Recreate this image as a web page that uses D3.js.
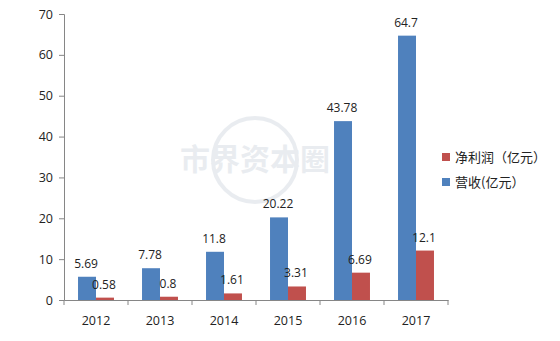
<!DOCTYPE html>
<html>
<head>
<meta charset="utf-8">
<script src="https://cdn.jsdelivr.net/npm/d3@7"></script>
<style>
  body { margin: 0; background: #fff; }
  svg text { font-family: "Open Sans", "DejaVu Sans", sans-serif; }
</style>
</head>
<body>
<div id="chart"></div>
<script>
const years = ["2012", "2013", "2014", "2015", "2016", "2017"];
const revenue = [5.69, 7.78, 11.8, 20.22, 43.78, 64.7];
const profit = [0.58, 0.8, 1.61, 3.31, 6.69, 12.1];
const yTicks = [0, 10, 20, 30, 40, 50, 60, 70];
const seriesNames = ["营收(亿元）", "净利润（亿元）"];

const width = 560, height = 341;
const margin = { left: 64, right: 112, top: 14, bottom: 41 };
const blue = "#4f81bd", red = "#c0504d", axisColor = "#868686";

const svg = d3.select("#chart").append("svg")
    .attr("width", width)
    .attr("height", height);

// watermark
const wm = svg.append("g").attr("opacity", 0.18);
wm.append("circle").attr("cx", 255).attr("cy", 160).attr("r", 42)
    .attr("fill", "none").attr("stroke", "#8a9bb0").attr("stroke-width", 4);
wm.append("text").attr("x", 255).attr("y", 170)
    .attr("text-anchor", "middle").attr("font-size", 30).attr("font-weight", "bold")
    .attr("fill", "#8a9bb0").style("font-family", "Noto Sans CJK SC")
    .text("市界资本圈");

const x = d3.scaleBand()
    .domain(years)
    .range([margin.left, width - margin.right]);

const inner = d3.scaleBand()
    .domain([0, 1])
    .range([0, x.bandwidth()])
    .paddingInner(0)
    .paddingOuter(0.78);

const y = d3.scaleLinear()
    .domain([0, 70])
    .range([height - margin.bottom, margin.top]);

// y axis
const yAxis = svg.append("g")
    .attr("transform", `translate(${margin.left},0)`)
    .call(d3.axisLeft(y).tickValues(yTicks).tickSize(5).tickPadding(6));
yAxis.select(".domain").attr("stroke", axisColor);
yAxis.selectAll(".tick line").attr("stroke", axisColor);
yAxis.selectAll(".tick text").attr("font-size", 12.5).attr("fill", "#222");

// bars
const series = [revenue, profit];
const colors = [blue, red];
series.forEach((vals, s) => {
    svg.append("g").selectAll("rect")
        .data(vals)
        .enter()
        .append("rect")
        .attr("x", (d, i) => x(years[i]) + inner(s))
        .attr("y", d => y(d))
        .attr("width", inner.bandwidth())
        .attr("height", d => y(0) - y(d))
        .attr("fill", colors[s]);

    svg.append("g").selectAll("text")
        .data(vals)
        .enter()
        .append("text")
        .attr("x", (d, i) => x(years[i]) + inner(s) + inner.bandwidth() / 2 - 1)
        .attr("y", d => y(d) - 9)
        .attr("text-anchor", "middle")
        .attr("font-size", 12)
        .attr("fill", "#222")
        .text(d => d);
});

// x axis
const xAxis = svg.append("g")
    .attr("transform", `translate(0,${y(0)})`)
    .call(d3.axisBottom(x).tickSize(0).tickPadding(16));
xAxis.select(".domain").attr("stroke", axisColor);
xAxis.selectAll(".tick text").attr("font-size", 12.5).attr("fill", "#222");
svg.append("g").selectAll("line")
    .data(years.concat(["end"]))
    .enter()
    .append("line")
    .attr("x1", (d, i) => margin.left + i * x.step())
    .attr("x2", (d, i) => margin.left + i * x.step())
    .attr("y1", y(0))
    .attr("y2", y(0) + 5)
    .attr("stroke", axisColor);

// legend
const legend = svg.append("g").attr("transform", "translate(442,157)");
[1, 0].forEach((s, k) => {
    const g = legend.append("g").attr("transform", `translate(0,${k * 25})`);
    g.append("rect").attr("x", 0).attr("y", -4).attr("width", 8).attr("height", 8)
        .attr("fill", colors[s]);
    g.append("text").attr("x", 13).attr("y", 0).attr("dy", "0.35em")
        .attr("font-size", 13).attr("fill", "#222")
        .style("font-family", "Noto Sans CJK SC")
        .text(seriesNames[s]);
});
</script>
</body>
</html>
